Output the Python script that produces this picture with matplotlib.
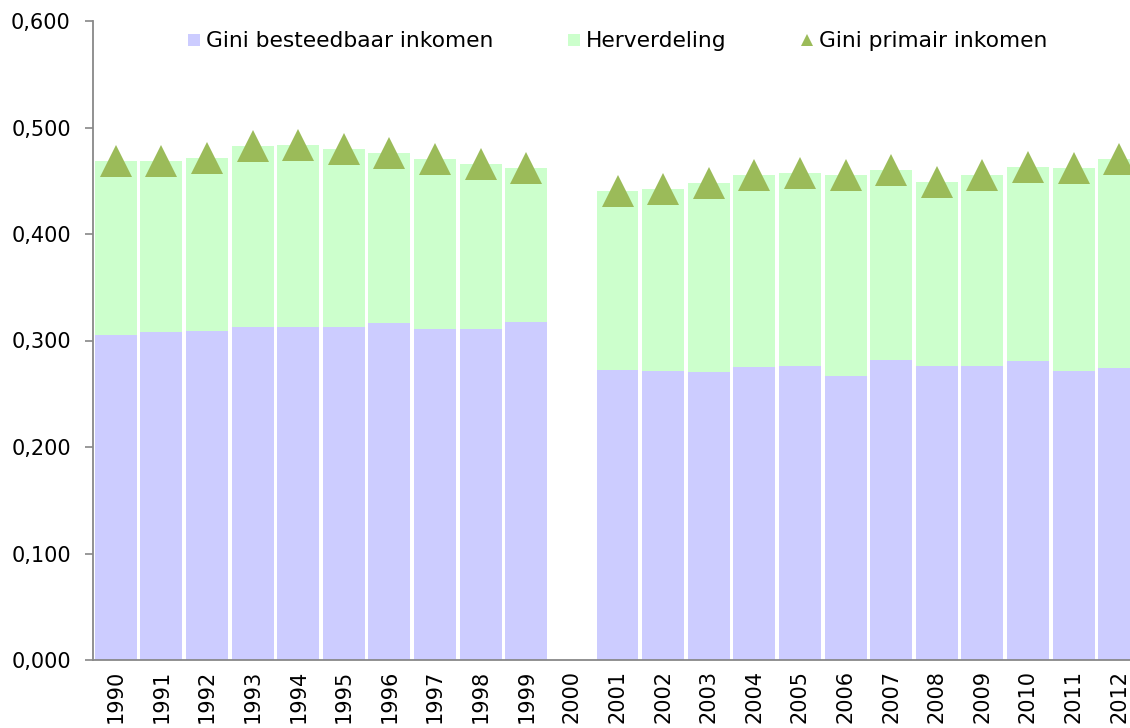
import numpy as np
import matplotlib
matplotlib.use("Agg")
import matplotlib.pyplot as plt
from matplotlib.lines import Line2D
from matplotlib.ticker import FixedLocator

years = [str(y) for y in range(1990, 2013)]
gini_besteedbaar = [0.305, 0.308, 0.309, 0.313, 0.313, 0.313, 0.316, 0.311, 0.311, 0.317,
                    np.nan,
                    0.272, 0.271, 0.270, 0.275, 0.276, 0.267, 0.282, 0.276, 0.276, 0.281, 0.271, 0.274]
herverdeling = [0.164, 0.161, 0.162, 0.170, 0.171, 0.167, 0.160, 0.159, 0.155, 0.145,
                np.nan,
                0.168, 0.171, 0.178, 0.180, 0.181, 0.188, 0.178, 0.173, 0.179, 0.182, 0.191, 0.196]
gini_primair = [0.469, 0.469, 0.471, 0.483, 0.484, 0.480, 0.476, 0.470, 0.466, 0.462,
                np.nan,
                0.440, 0.442, 0.448, 0.455, 0.457, 0.455, 0.460, 0.449, 0.455, 0.463, 0.462, 0.470]
yticks = [0.0, 0.1, 0.2, 0.3, 0.4, 0.5, 0.6]

purple = "#CCCCFF"
green = "#CCFFCC"
olive = "#9BBB59"
FS = 15

fig = plt.figure(figsize=(11.3, 7.28), dpi=100)
ax = fig.add_axes([93/1130, 68/728, (1142-93)/1130, (660-21)/728])

x = np.arange(len(years))
ax.bar(x, gini_besteedbaar, width=0.92, color=purple, linewidth=0, zorder=2)
ax.bar(x, herverdeling, bottom=gini_besteedbaar, width=0.92, color=green, linewidth=0, zorder=2)
ax.plot(x, gini_primair, linestyle="none", marker="^", markersize=23,
        color=olive, markeredgewidth=0, zorder=3)

ax.set_xlim(-0.5, len(years) - 0.5)
ax.set_ylim(0, 0.6)
ax.yaxis.set_major_locator(FixedLocator(yticks))
ax.set_yticklabels([f"{v:.3f}".replace(".", ",") for v in yticks], fontsize=FS)
ax.set_xticks(x)
ax.set_xticklabels(years, rotation=90, fontsize=15)
ax.tick_params(axis="x", length=0, pad=7)
ax.tick_params(axis="y", length=6, width=1.2, color="#888888", pad=10)

for s in ["top", "right"]:
    ax.spines[s].set_visible(False)
for s in ["left", "bottom"]:
    ax.spines[s].set_color("#888888")
    ax.spines[s].set_linewidth(1.3)

handles = [
    Line2D([], [], linestyle="none", marker="s", markersize=8.5, color=purple, markeredgewidth=0),
    Line2D([], [], linestyle="none", marker="s", markersize=8.5, color=green, markeredgewidth=0),
    Line2D([], [], linestyle="none", marker="^", markersize=8, color=olive, markeredgewidth=0),
]
labels = ["Gini besteedbaar inkomen", "Herverdeling", "Gini primair inkomen"]
ax.legend(handles, labels, loc="center", bbox_to_anchor=(0.5, 0.968), ncol=3,
          frameon=False, fontsize=15.7, handlelength=0.6, handletextpad=0.25,
          columnspacing=3.4)

fig.savefig("out.png", dpi=100)
